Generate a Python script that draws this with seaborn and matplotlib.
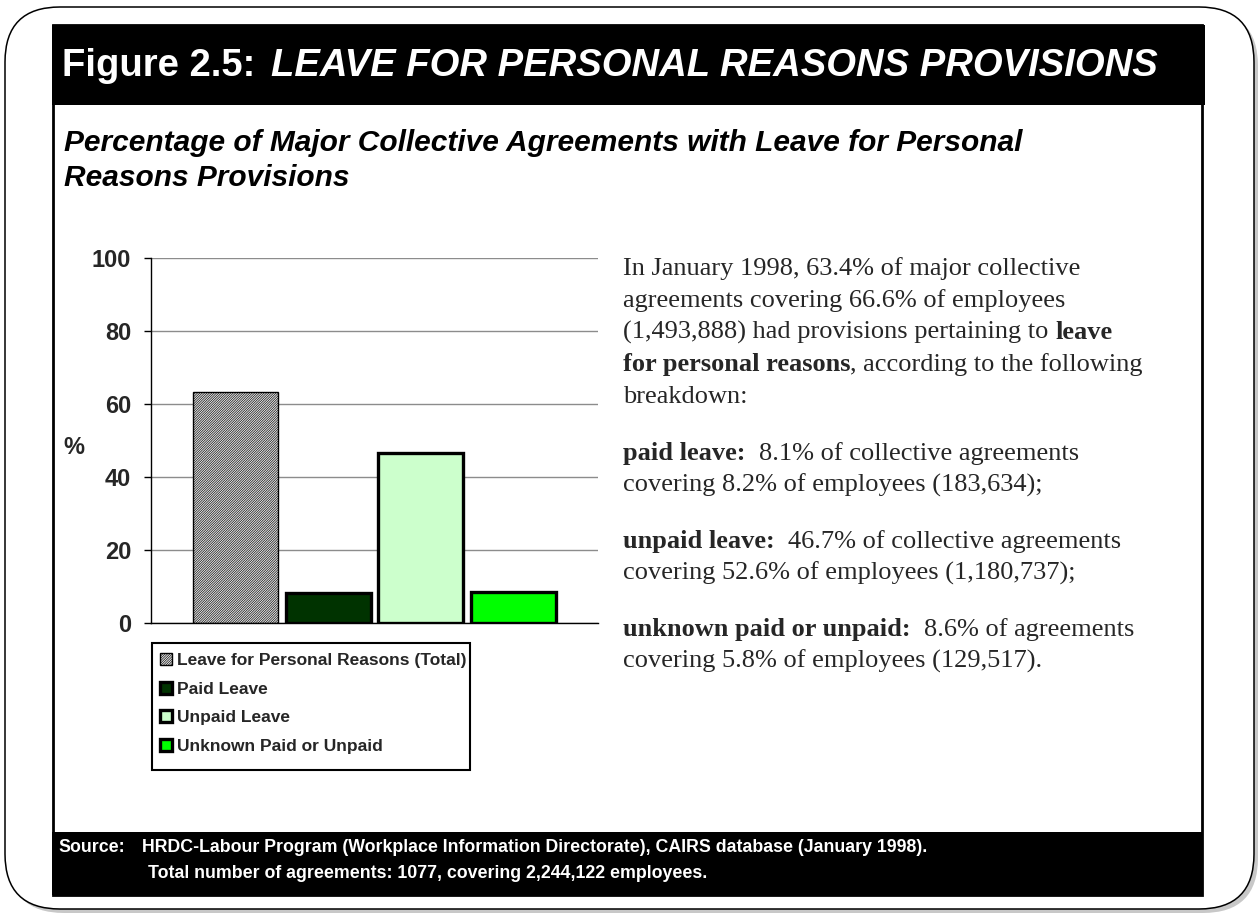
import matplotlib
matplotlib.use("Agg")
import matplotlib.pyplot as plt
import matplotlib.transforms as mtransforms
from matplotlib.patches import FancyBboxPatch, Rectangle
import pandas as pd
import seaborn as sns

# ---- data -------------------------------------------------------------
series = [
    "Leave for Personal Reasons (Total)",
    "Paid Leave",
    "Unpaid Leave",
    "Unknown Paid or Unpaid",
]
values = [63.4, 8.1, 46.7, 8.6]
bar_colors = ["#e6e6e6", "#003300", "#ccffcc", "#00ff00"]
y_ticks = [0, 20, 40, 60, 80, 100]

title_lead = "Figure 2.5:"
title_main = "LEAVE FOR PERSONAL REASONS PROVISIONS"
subtitle_lines = [
    "Percentage of Major Collective Agreements with Leave for Personal",
    "Reasons Provisions",
]
# each line: list of (text, bold) runs
body_lines = [
    [("In January 1998, 63.4% of major collective", False)],
    [("agreements covering 66.6% of employees", False)],
    [("(1,493,888) had provisions pertaining to", False), (" ", False), ("leave", True)],
    [("for personal reasons", True), (", according to the following", False)],
    [("breakdown:", False)],
    [("paid leave:", True), ("  ", False), ("8.1% of collective agreements", False)],
    [("covering 8.2% of employees (183,634);", False)],
    [("unpaid leave:", True), ("  ", False), ("46.7% of collective agreements", False)],
    [("covering 52.6% of employees (1,180,737);", False)],
    [("unknown paid or unpaid:", True), ("  ", False), ("8.6% of agreements", False)],
    [("covering 5.8% of employees (129,517).", False)],
]
body_baselines = [275, 307, 339, 371, 403, 460, 492, 548, 580, 636, 668]
source_label = "Source:"
source_line1 = "HRDC-Labour Program (Workplace Information Directorate), CAIRS database (January 1998)."
source_line2 = "Total number of agreements: 1077, covering 2,244,122 employees."

# ---- figure -----------------------------------------------------------
W, H, DPI = 1259, 915, 100
sns.set_theme(style="white")
plt.rcParams["font.family"] = ["Liberation Sans", "DejaVu Sans"]
plt.rcParams["hatch.linewidth"] = 0.45

fig = plt.figure(figsize=(W / DPI, H / DPI), dpi=DPI)
fig.patch.set_facecolor("white")
PIX = mtransforms.IdentityTransform()


def py(y):
    """Convert a top-down pixel row into display coordinates."""
    return H - y


def box(x0, y0, x1, y1, **kw):
    fig.add_artist(Rectangle((x0, py(y1)), x1 - x0, y1 - y0, transform=PIX, **kw))


# rounded page frame with a soft drop shadow
fig.add_artist(FancyBboxPatch((9, py(913)), 1249, 902,
                              boxstyle="round,pad=0,rounding_size=55",
                              transform=PIX, facecolor="#c8c8c8", edgecolor="none", zorder=0))
fig.add_artist(FancyBboxPatch((5, py(909)), 1249, 902,
                              boxstyle="round,pad=0,rounding_size=55",
                              transform=PIX, facecolor="white", edgecolor="black",
                              linewidth=1.1, zorder=0.5))

# inner panel, header band and source band
box(53, 25, 1202, 895, facecolor="white", edgecolor="black", linewidth=2, zorder=1)
box(52, 25, 1205, 105, facecolor="black", edgecolor="none", zorder=1.2)
box(52, 832, 1203, 895, facecolor="black", edgecolor="none", zorder=1.2)

renderer = fig.canvas.get_renderer()

TITLE_SIZE = 27.5
lead = fig.text(62, py(66), title_lead, transform=PIX, color="white", fontsize=TITLE_SIZE,
                fontweight="bold", va="center", ha="left", zorder=3)
lead_w = lead.get_window_extent(renderer=renderer).width
fig.text(62 + lead_w + 16, py(66), title_main, transform=PIX, color="white",
         fontsize=TITLE_SIZE, fontweight="bold", fontstyle="italic",
         va="center", ha="left", zorder=3)

for txt, yc in zip(subtitle_lines, [143, 178]):
    fig.text(64, py(yc), txt, transform=PIX, color="black", fontsize=21.5,
             fontweight="bold", fontstyle="italic", va="center", ha="left", zorder=3)

SRC_SIZE = 12.8
fig.text(58, py(848), source_label, transform=PIX, color="white", fontsize=SRC_SIZE,
         fontweight="bold", va="center", ha="left", zorder=3)
fig.text(142, py(848), source_line1, transform=PIX, color="white", fontsize=SRC_SIZE,
         fontweight="bold", va="center", ha="left", zorder=3)
fig.text(148, py(874), source_line2, transform=PIX, color="white", fontsize=SRC_SIZE,
         fontweight="bold", va="center", ha="left", zorder=3)

# ---- bar chart --------------------------------------------------------
ax = fig.add_axes([151 / W, 1 - 623 / H, (598 - 151) / W, (623 - 258) / H])
ax.set_zorder(2)
df = pd.DataFrame({"group": [""] * len(series), "series": series, "value": values})
sns.barplot(data=df, x="group", y="value", hue="series", hue_order=series,
            palette=bar_colors, saturation=1, width=0.83, gap=0.085,
            edgecolor="black", linewidth=2.4, legend=False, ax=ax)

total_bar = ax.containers[0].patches[0]
total_bar.set_hatch("/" * 14)
total_bar.set_linewidth(1.0)

ax.set_xlim(-0.5, 0.5)
ax.set_ylim(0, 100)
ax.set_yticks(y_ticks)
ax.set_xticks([])
ax.set_xlabel("")
ax.set_ylabel("")
ax.set_facecolor("white")
ax.yaxis.grid(True, color="#8c8c8c", linewidth=1.0)
ax.set_axisbelow(True)
for side in ("top", "right"):
    ax.spines[side].set_visible(False)
for side in ("left", "bottom"):
    ax.spines[side].set_color("black")
    ax.spines[side].set_linewidth(1.0)
ax.tick_params(axis="y", left=True, direction="out", length=5, width=1,
               color="black", pad=9.4, labelsize=17)
for lab in ax.get_yticklabels():
    lab.set_fontweight("bold")

fig.text(74, py(447), "%", transform=PIX, fontsize=17, fontweight="bold",
         ha="center", va="center", zorder=3)

# legend below the chart
box(152, 643, 470, 770, facecolor="white", edgecolor="black", linewidth=1.5, zorder=1.5)
handles = [c.patches[0] for c in ax.containers]
leg = fig.legend(handles, series, loc="upper left",
                 bbox_to_anchor=(160 / W, 1 - 653 / H), bbox_transform=fig.transFigure,
                 frameon=False, prop={"weight": "bold", "size": 12.5},
                 handlelength=0.69, handleheight=0.69, handletextpad=0.29,
                 labelspacing=0.78, borderpad=0, borderaxespad=0)
leg.set_zorder(3)

# ---- body text with inline bold runs ------------------------------------


def text_width(s, weight, size):
    t = fig.text(0, 0, s, transform=PIX, family="Liberation Serif",
                 fontweight=weight, fontsize=size)
    w = t.get_window_extent(renderer=renderer).width
    t.remove()
    return w


BODY_SIZE = 19
space_w = text_width("n n", "normal", BODY_SIZE) - text_width("nn", "normal", BODY_SIZE)

for runs, base in zip(body_lines, body_baselines):
    x = 623
    for s, bold in runs:
        weight = "bold" if bold else "normal"
        if s.strip() == "":
            x += space_w * len(s)
            continue
        fig.text(x, py(base), s, transform=PIX, family="Liberation Serif",
                 fontweight=weight, fontsize=BODY_SIZE, va="baseline", ha="left",
                 zorder=3)
        x += text_width(s, weight, BODY_SIZE)

fig.savefig("out.png", dpi=DPI, facecolor="white")
